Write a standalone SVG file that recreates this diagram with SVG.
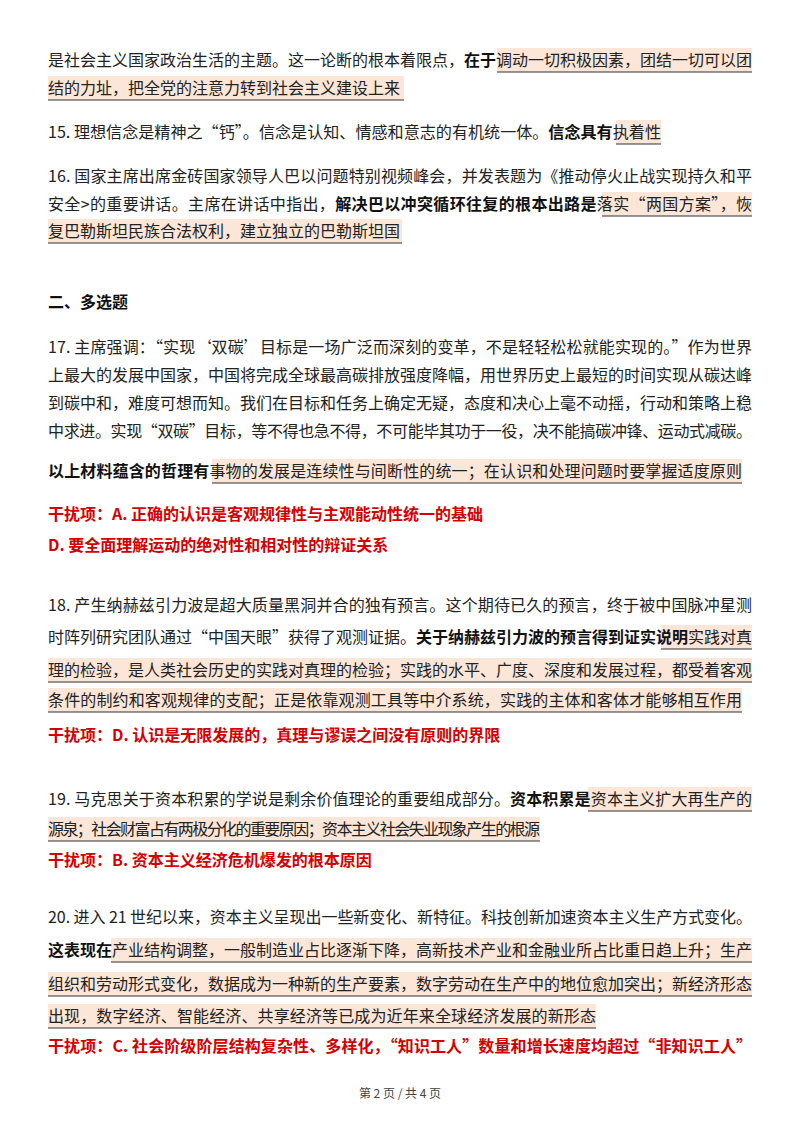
<svg xmlns="http://www.w3.org/2000/svg" width="800" height="1132" viewBox="0 0 800 1132">
<style>
text{font-family:"Noto Sans CJK SC","Noto Sans",sans-serif;font-size:16px;fill:#222}
.b{font-weight:bold;fill:#111}
.r{font-weight:bold;fill:#d40000}
.h{fill:#fbe6d8}
.u{stroke:#333;stroke-width:1}
.f{font-size:12px;fill:#444}
</style>
<rect width="800" height="1132" fill="#fff"/>
<g id="highlights">
<rect class="h" x="497" y="48" width="255" height="24"/><line class="u" x1="497" y1="72" x2="752" y2="72"/>
<rect class="h" x="48" y="76" width="356" height="24"/><line class="u" x1="48" y1="100" x2="404" y2="100"/>
<rect class="h" x="616" y="120" width="45" height="24"/><line class="u" x1="616" y1="144" x2="661" y2="144"/>
<rect class="h" x="602" y="192" width="150" height="24"/><line class="u" x1="602" y1="216" x2="752" y2="216"/>
<rect class="h" x="48" y="219" width="354" height="24"/><line class="u" x1="48" y1="243" x2="402" y2="243"/>
<rect class="h" x="212" y="459" width="530" height="24"/><line class="u" x1="212" y1="483" x2="742" y2="483"/>
<rect class="h" x="661" y="625" width="91" height="24"/><line class="u" x1="661" y1="649" x2="752" y2="649"/>
<rect class="h" x="48" y="658" width="704" height="24"/><line class="u" x1="48" y1="682" x2="752" y2="682"/>
<rect class="h" x="48" y="688" width="694" height="24"/><line class="u" x1="48" y1="712" x2="742" y2="712"/>
<rect class="h" x="588" y="787" width="164" height="24"/><line class="u" x1="588" y1="811" x2="752" y2="811"/>
<rect class="h" x="48" y="817" width="492" height="24"/><line class="u" x1="48" y1="841" x2="540" y2="841"/>
<rect class="h" x="111" y="938" width="641" height="24"/><line class="u" x1="111" y1="962" x2="752" y2="962"/>
<rect class="h" x="48" y="972" width="704" height="24"/><line class="u" x1="48" y1="996" x2="752" y2="996"/>
<rect class="h" x="48" y="1004" width="548" height="24"/><line class="u" x1="48" y1="1028" x2="596" y2="1028"/>
</g>
<g id="text">
<text x="48" y="66" textLength="704" lengthAdjust="spacing">是社会主义国家政治生活的主题。这一论断的根本着限点，<tspan class="b">在于</tspan>调动一切积极因素，团结一切可以团</text>
<text x="48" y="94">结的力址，把全党的注意力转到社会主义建设上来</text>
<text x="48" y="138" textLength="613" lengthAdjust="spacingAndGlyphs">15. 理想信念是精神之“钙”。信念是认知、情感和意志的有机统一体。<tspan class="b">信念具有</tspan>执着性</text>
<text x="48" y="182" textLength="704" lengthAdjust="spacing">16. 国家主席出席金砖国家领导人巴以问题特别视频峰会，并发表题为《推动停火止战实现持久和平</text>
<text x="48" y="210" textLength="704" lengthAdjust="spacing">安全&gt;的重要讲话。主席在讲话中指出，<tspan class="b">解决巴以冲突循环往复的根本出路是</tspan>落实“两国方案”，恢</text>
<text x="48" y="237">复巴勒斯坦民族合法权利，建立独立的巴勒斯坦国</text>
<text x="48" y="308" class="b">二、多选题</text>
<text x="48" y="353" textLength="704" lengthAdjust="spacing">17. 主席强调：“实现‘双碳’目标是一场广泛而深刻的变革，不是轻轻松松就能实现的。”作为世界</text>
<text x="48" y="381" textLength="704" lengthAdjust="spacing">上最大的发展中国家，中国将完成全球最高碳排放强度降幅，用世界历史上最短的时间实现从碳达峰</text>
<text x="48" y="409" textLength="704" lengthAdjust="spacing">到碳中和，难度可想而知。我们在目标和任务上确定无疑，态度和决心上毫不动摇，行动和策略上稳</text>
<text x="48" y="437" textLength="704" lengthAdjust="spacing">中求进。实现“双碳”目标，等不得也急不得，不可能毕其功于一役，决不能搞碳冲锋、运动式减碳。</text>
<text x="48" y="477" textLength="694" lengthAdjust="spacing"><tspan class="b">以上材料蕴含的哲理有</tspan>事物的发展是连续性与间断性的统一；在认识和处理问题时要掌握适度原则</text>
<text x="48" y="520" class="r">干扰项：A. 正确的认识是客观规律性与主观能动性统一的基础</text>
<text x="48" y="551" class="r">D. 要全面理解运动的绝对性和相对性的辩证关系</text>
<text x="48" y="611" textLength="704" lengthAdjust="spacing">18. 产生纳赫兹引力波是超大质量黑洞并合的独有预言。这个期待已久的预言，终于被中国脉冲星测</text>
<text x="48" y="643" textLength="704" lengthAdjust="spacing">时阵列研究团队通过“中国天眼”获得了观测证据。<tspan class="b">关于纳赫兹引力波的预言得到证实说明</tspan>实践对真</text>
<text x="48" y="676" textLength="704" lengthAdjust="spacing">理的检验，是人类社会历史的实践对真理的检验；实践的水平、广度、深度和发展过程，都受着客观</text>
<text x="48" y="706" textLength="694" lengthAdjust="spacing">条件的制约和客观规律的支配；正是依靠观测工具等中介系统，实践的主体和客体才能够相互作用</text>
<text x="48" y="741" class="r">干扰项：D. 认识是无限发展的，真理与谬误之间没有原则的界限</text>
<text x="48" y="805" textLength="704" lengthAdjust="spacing">19. 马克思关于资本积累的学说是剩余价值理论的重要组成部分。<tspan class="b">资本积累是</tspan>资本主义扩大再生产的</text>
<text x="48" y="835" textLength="492" lengthAdjust="spacing">源泉；社会财富占有两极分化的重要原因；资本主义社会失业现象产生的根源</text>
<text x="48" y="866" class="r">干扰项：B. 资本主义经济危机爆发的根本原因</text>
<text x="48" y="923" textLength="704" lengthAdjust="spacing">20. 进入 21 世纪以来，资本主义呈现出一些新变化、新特征。科技创新加速资本主义生产方式变化。</text>
<text x="48" y="956" textLength="704" lengthAdjust="spacing"><tspan class="b">这表现在</tspan>产业结构调整，一般制造业占比逐渐下降，高新技术产业和金融业所占比重日趋上升；生产</text>
<text x="48" y="990" textLength="704" lengthAdjust="spacing">组织和劳动形式变化，数据成为一种新的生产要素，数字劳动在生产中的地位愈加突出；新经济形态</text>
<text x="48" y="1022" textLength="548" lengthAdjust="spacing">出现，数字经济、智能经济、共享经济等已成为近年来全球经济发展的新形态</text>
<text x="48" y="1052" class="r" textLength="704" lengthAdjust="spacing">干扰项：C. 社会阶级阶层结构复杂性、多样化，“知识工人”数量和增长速度均超过“非知识工人”</text>
<text x="400" y="1098" class="f" text-anchor="middle">第 2 页 / 共 4 页</text>
</g>
</svg>
